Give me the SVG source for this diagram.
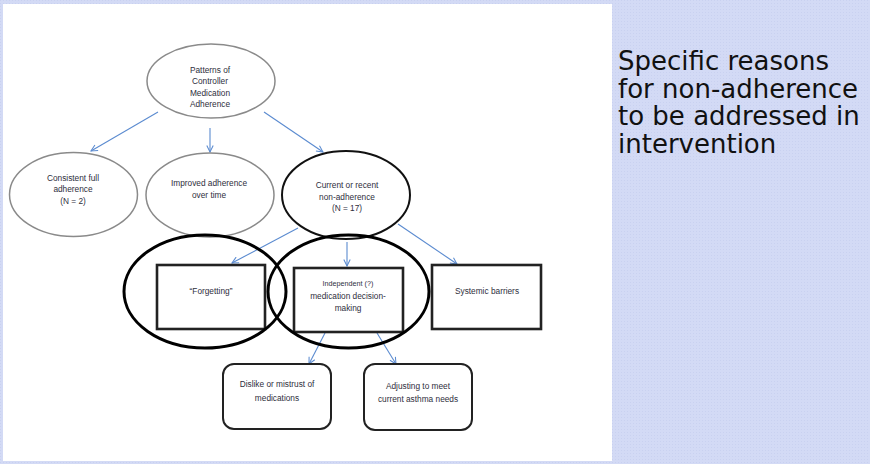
<svg xmlns="http://www.w3.org/2000/svg" width="870" height="464" viewBox="0 0 870 464">
<defs>
<marker id="ah" viewBox="0 0 10 10" refX="9" refY="5" markerWidth="8" markerHeight="8" markerUnits="userSpaceOnUse" orient="auto">
<polyline points="1,1 9,5 1,9" fill="none" stroke="#5b8bd0" stroke-width="1.3"/>
</marker>
<pattern id="dots" width="3" height="3" patternUnits="userSpaceOnUse">
<rect width="3" height="3" fill="#d3daf5"/>
<rect width="1" height="1" fill="#c9d1f0"/>
</pattern>
</defs>
<style>
.t{font-family:"Liberation Sans",Arial,sans-serif;font-size:8.3px;fill:#2e2e3c;text-anchor:middle}
.ts{font-size:7.2px}
.ge{fill:none;stroke:#8a8a8a;stroke-width:1.5}
.be{fill:none;stroke:#111;stroke-width:2}
.bx{fill:none;stroke:#222;stroke-width:2.6}
.rb{fill:none;stroke:#222;stroke-width:2}
.hl{fill:none;stroke:#000;stroke-width:3}
.c line{stroke:#5b8bd0;stroke-width:1.1;marker-end:url(#ah)}
.side{font-family:"DejaVu Sans",Verdana,sans-serif;font-size:26px;fill:#111}
</style>
<rect width="870" height="464" fill="url(#dots)"/>
<rect x="3" y="4" width="609" height="457" fill="#fff"/>

<g class="c" id="connectors">
<line x1="158" y1="112" x2="91" y2="151"/>
<line x1="210" y1="128" x2="210" y2="152"/>
<line x1="264" y1="112" x2="323" y2="152"/>
<line x1="298" y1="228" x2="232" y2="263"/>
<line x1="347" y1="242" x2="347" y2="266"/>
<line x1="398" y1="224" x2="457" y2="264"/>
<line x1="325" y1="333" x2="309" y2="364"/>
<line x1="377" y1="333" x2="396" y2="364"/>
</g>

<g id="patterns">
<ellipse class="ge" cx="211" cy="81" rx="64" ry="37"/>
<text class="t" x="210" y="73">Patterns of</text>
<text class="t" x="210" y="84.3">Controller</text>
<text class="t" x="210" y="95.6">Medication</text>
<text class="t" x="210" y="106.9">Adherence</text>
</g>

<g id="consistent">
<ellipse class="ge" cx="73.5" cy="194.5" rx="64" ry="42"/>
<text class="t" x="73" y="181">Consistent full</text>
<text class="t" x="73" y="192.3">adherence</text>
<text class="t" x="73" y="203.6">(N = 2)</text>
</g>

<g id="improved">
<ellipse class="ge" cx="210" cy="195" rx="64" ry="42"/>
<text class="t" x="209" y="186">Improved adherence</text>
<text class="t" x="209" y="197.5">over time</text>
</g>

<g id="current">
<ellipse class="be" cx="346" cy="195" rx="64" ry="44"/>
<text class="t" x="347" y="188">Current or recent</text>
<text class="t" x="347" y="199.5">non-adherence</text>
<text class="t" x="347" y="211">(N = 17)</text>
</g>

<g id="forgetting">
<rect class="bx" x="157" y="265" width="108" height="64"/>
<text class="t" x="211" y="294">“Forgetting”</text>
</g>

<g id="independent">
<rect class="bx" x="294" y="268" width="109" height="64"/>
<text class="t ts" x="348" y="286">Independent (?)</text>
<text class="t" x="348" y="299">medication decision-</text>
<text class="t" x="348" y="311">making</text>
</g>

<g id="systemic">
<rect class="bx" x="432" y="265" width="109" height="64"/>
<text class="t" x="487" y="294">Systemic barriers</text>
</g>

<g id="dislike">
<rect class="rb" x="223" y="364" width="108" height="65" rx="11"/>
<text class="t" x="277" y="387">Dislike or mistrust of</text>
<text class="t" x="277" y="400.5">medications</text>
</g>

<g id="adjusting">
<rect class="rb" x="364" y="364" width="108" height="66" rx="11"/>
<text class="t" x="418" y="389">Adjusting to meet</text>
<text class="t" x="418" y="402">current asthma needs</text>
</g>

<g id="highlights">
<ellipse class="hl" cx="205" cy="291.5" rx="81" ry="56.5"/>
<ellipse class="hl" cx="348.5" cy="291.5" rx="80.5" ry="56.5"/>
</g>

<g id="side-note">
<text class="side" x="618" y="70">Specific reasons</text>
<text class="side" x="618" y="97.7">for non-adherence</text>
<text class="side" x="618" y="125.4">to be addressed in</text>
<text class="side" x="618" y="153">intervention</text>
</g>
</svg>
